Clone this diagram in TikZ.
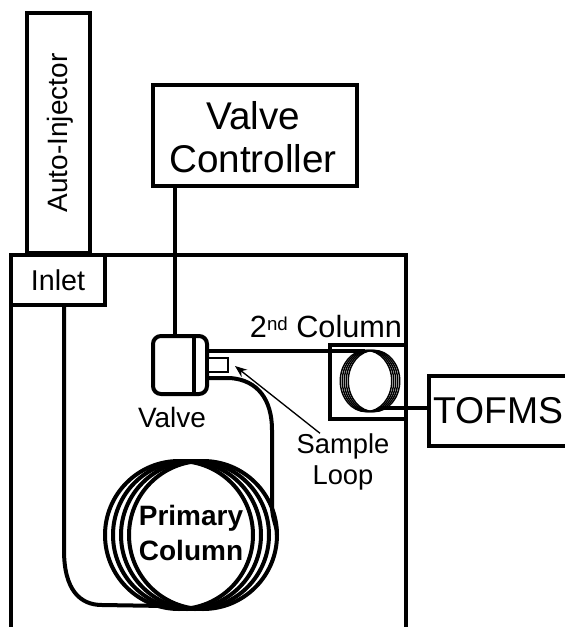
\documentclass[tikz,border=0pt]{standalone}
\usepackage{fontspec}
\setmainfont{Liberation Sans}
\usetikzlibrary{arrows.meta}
\tikzset{
  thick line/.style={line width=3pt,black},
  boxed/.style={draw=black,line width=3pt,fill=white,inner sep=0pt,align=center},
  lbl/.style={inner sep=0pt,align=center,font=\fontsize{#1}{1.15\dimexpr #1pt\relax}\selectfont},
  ring/.style={draw=black,line width=3pt},
  thinring/.style={draw=black,line width=1.1pt},
}
\begin{document}
\begin{tikzpicture}[x=0.75pt,y=-0.75pt]
\useasboundingbox (0,0) rectangle (564,627);
% oven
\coordinate (ovenBL) at (11,627);
\coordinate (ovenBR) at (406,627);
\draw[thick line] (ovenBL) -- (11,255) -- (406,255) -- (ovenBR);
% auto-injector
\node[boxed,minimum width=47.25pt,minimum height=180pt,anchor=south west] (ai) at (25,255) {};
\node[lbl=21,rotate=90] (ailabel) at (60,133) {Auto-Injector};
% inlet
\node[boxed,minimum width=70.5pt,minimum height=37.5pt] (inlet) at (58,280) {};
\node[lbl=21.5] (inletlabel) at (58,280) {Inlet};
% controller
\node[boxed,minimum width=153pt,minimum height=75.75pt] (ctrl) at (255,135.5) {};
\node[lbl=29,text depth=0pt] (ctrllabel) at (253,137) {Valve\\[-1pt]Controller};
% valve
\node[draw=black,line width=3pt,rounded corners=6pt,fill=white,minimum width=40.5pt,minimum height=43.5pt,inner sep=0pt] (valve) at (180,365) {};
\draw[thick line] (194,336) -- (194,394);
\node[lbl=21] (valvelabel) at (172,417) {Valve};
\draw[thick line] (ctrl.south -| 175,186) -- (175,336);
% sample loop
\node[draw=black,line width=2pt,fill=white,minimum width=15pt,minimum height=10.5pt,inner sep=0pt] (loop) at (218,365) {};
% primary column
\foreach \c in {179,187,195,203}{\draw[ring] (\c,535) circle[radius=55.5pt];}
\node[lbl=21,text depth=0pt] (pclabel) at (191,533) {\bfseries Primary\\[2pt]\bfseries Column};
% tubing
\draw[thick line] (inlet.south -| 64,305) -- (64,550) .. controls (64,590) and (80,605) .. (102,605) -- (165,606);
\draw[thick line] (207,378) -- (230,378) .. controls (258,380) and (272,400) .. (272,430) -- (272,505) .. controls (272,520) and (277,525) .. (277,535);
% second column
\node[draw=black,line width=3pt,minimum width=57pt,minimum height=55.5pt,inner sep=0pt] (col2box) at (368,382) {};
\foreach \c in {366,368,370,372,374}{\draw[thinring] (\c,381) ellipse[x radius=19.3pt,y radius=23pt];}
\draw[thick line] (207,351) -- (365,351);
\node[lbl=23] (col2label) at (326,327) {2{\raisebox{5.5pt}{\fontsize{14}{14}\selectfont nd}} Column};
% TOFMS
\node[boxed,minimum width=103.5pt,minimum height=53pt,anchor=west] (tofms) at (427,411) {};
\node[lbl=28] (tofmslabel) at (498,411) {TOFMS};
\draw[thick line] (380,408) -- (tofms.west |- 0,408);
% sample loop label and arrow
\node[lbl=20.5] (sl) at (343,462) {Sample\\Loop};
\draw[-{Stealth[length=9pt,width=7pt]},line width=1pt] (sl.north -| 320,425) -- (235,366);
\end{tikzpicture}
\end{document}
